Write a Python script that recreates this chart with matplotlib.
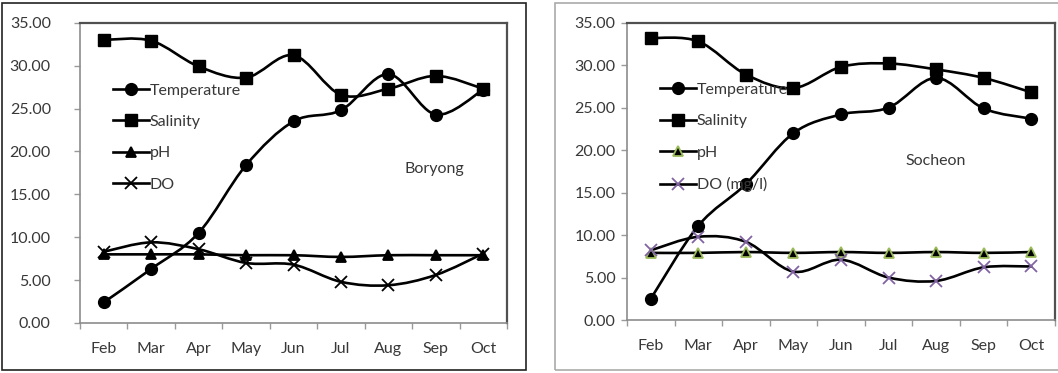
import matplotlib
matplotlib.use("Agg")
import numpy as np
import matplotlib.pyplot as plt
from matplotlib.path import Path
from matplotlib.patches import PathPatch, Rectangle
from matplotlib.lines import Line2D

plt.rcParams["font.family"] = ["Lato", "DejaVu Sans"]

months = ["Feb", "Mar", "Apr", "May", "Jun", "Jul", "Aug", "Sep", "Oct"]

# Boryong station
bor_temp = [2.4, 6.3, 10.5, 18.4, 23.5, 24.8, 29.0, 24.3, 27.2]
bor_sal = [33.0, 32.9, 29.9, 28.6, 31.2, 26.6, 27.3, 28.8, 27.3]
bor_ph = [8.0, 8.0, 8.0, 7.9, 7.9, 7.7, 7.9, 7.9, 7.9]
bor_do = [8.3, 9.4, 8.6, 7.0, 6.8, 4.8, 4.4, 5.6, 8.1]

# Socheon station
soc_temp = [2.5, 11.1, 16.0, 22.0, 24.2, 25.0, 28.5, 24.9, 23.7]
soc_sal = [33.2, 32.8, 28.9, 27.3, 29.8, 30.2, 29.5, 28.5, 26.8]
soc_ph = [7.9, 7.9, 8.0, 7.9, 8.0, 7.9, 8.0, 7.9, 8.0]
soc_do = [8.2, 9.8, 9.2, 5.7, 7.1, 5.0, 4.6, 6.2, 6.3]

TXT = "#383838"
FS = 11.5


def smooth_path(x, y):
    """Bezier path through the points with Excel-style smoothing."""
    pts = np.column_stack([x, y]).astype(float)
    n = len(pts)
    verts = [pts[0]]
    codes = [Path.MOVETO]
    for i in range(n - 1):
        p0 = pts[i - 1] if i > 0 else pts[i]
        p1 = pts[i]
        p2 = pts[i + 1]
        p3 = pts[i + 2] if i + 2 < n else pts[i + 1]
        c1 = p1 + (p2 - p0) / 6.0
        c2 = p2 - (p3 - p1) / 6.0
        verts += [c1, c2, p2]
        codes += [Path.CURVE4] * 3
    return Path(verts, codes)


def draw_series(ax, y, marker, ms, mfc, mec, mew, label):
    x = np.arange(len(y))
    ax.add_patch(PathPatch(smooth_path(x, y), fill=False, edgecolor="black",
                           lw=1.9, zorder=3, capstyle="round", joinstyle="round"))
    ax.plot(x, y, linestyle="none", marker=marker, markersize=ms,
            markerfacecolor=mfc, markeredgecolor=mec, markeredgewidth=mew, zorder=4)
    return Line2D([], [], color="black", lw=1.9, marker=marker, markersize=ms,
                  markerfacecolor=mfc, markeredgecolor=mec, markeredgewidth=mew,
                  label=label)


def style_axes(ax, ypad):
    ax.set_xlim(-0.5, len(months) - 0.5)
    ax.set_ylim(0, 35)
    ax.set_yticks(np.arange(0, 36, 5))
    ax.set_yticklabels([f"{v:.2f}" for v in np.arange(0, 36, 5)])
    ax.set_xticks(np.arange(len(months)))
    ax.set_xticklabels(months)
    ax.set_xticks(np.arange(-0.5, len(months)), minor=True)
    ax.tick_params(axis="x", which="major", length=0, pad=14, labelsize=FS, labelcolor=TXT)
    ax.tick_params(axis="x", which="minor", length=4, width=1, color="#9a9a9a", direction="out")
    ax.tick_params(axis="y", length=4, width=1, color="#9a9a9a", pad=ypad,
                   labelsize=FS, labelcolor=TXT)
    for side in ("top", "right"):
        ax.spines[side].set_color("#505050")
        ax.spines[side].set_linewidth(1.6)
    for side in ("left", "bottom"):
        ax.spines[side].set_color("#8c8c8c")
        ax.spines[side].set_linewidth(1.2)


fig = plt.figure(figsize=(10.58, 3.73), dpi=100)

# outer frames of the two charts
fig.patches.append(Rectangle((2 / 1058, 3 / 373), 524 / 1058, 367 / 373,
                             transform=fig.transFigure, fill=False,
                             edgecolor="#222222", lw=1.2))
fig.patches.append(Rectangle((555 / 1058, 3 / 373), 510 / 1058, 367 / 373,
                             transform=fig.transFigure, fill=False,
                             edgecolor="#aaaaaa", lw=1.2))

ax1 = fig.add_axes([80 / 1058, 50 / 373, 427 / 1058, 300.3 / 373])
ax2 = fig.add_axes([627 / 1058, 53 / 373, 428 / 1058, 297.3 / 373])

for ax, ypad, temp, sal, ph, do, ph_style, do_style, do_label, name, pos in [
    (ax1, 17, bor_temp, bor_sal, bor_ph, bor_do,
     ("black", "black"), ("black", "black"), "DO", "Boryong", (6.97, 18.0)),
    (ax2, 4.3, soc_temp, soc_sal, soc_ph, soc_do,
     ("black", "#9BBB59"), ("#8064A2", "#8064A2"), "DO (mg/l)", "Socheon", (6.0, 18.7)),
]:
    style_axes(ax, ypad)
    h_ph = draw_series(ax, ph, "^", 7.5, ph_style[0], ph_style[1], 1.3, "pH")
    h_do = draw_series(ax, do, "x", 8.5, do_style[0], do_style[1], 1.3, do_label)
    h_t = draw_series(ax, temp, "o", 8.5, "black", "black", 1, "Temperature")
    h_s = draw_series(ax, sal, "s", 9, "black", "black", 1, "Salinity")
    leg = ax.legend(handles=[h_t, h_s, h_ph, h_do], loc="upper left",
                    bbox_to_anchor=(0.077, 0.798), frameon=False, fontsize=FS,
                    handlelength=2.25, handletextpad=0.05, labelspacing=1.08,
                    borderaxespad=0, borderpad=0)
    for t in leg.get_texts():
        t.set_color(TXT)
    ax.text(pos[0], pos[1], name, fontsize=FS, color=TXT, ha="center", va="center")

fig.savefig("out.png", dpi=100)
